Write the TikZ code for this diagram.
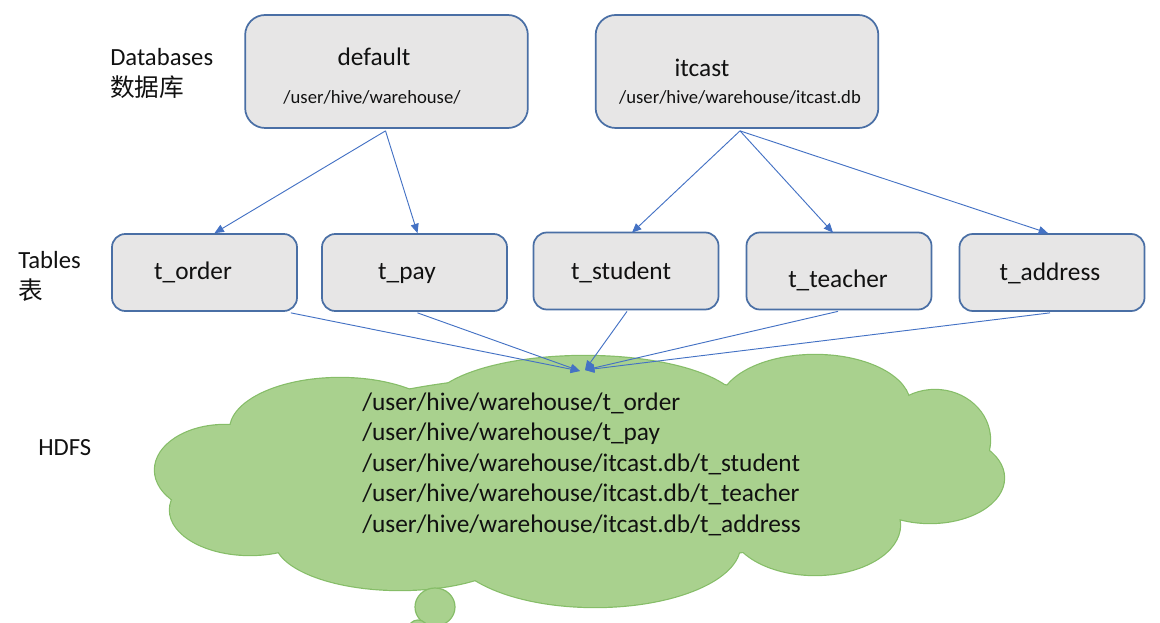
\documentclass[tikz,border=0pt]{standalone}
\usepackage{fontspec}
\setmainfont{Carlito}
\newfontfamily\cjk{Noto Sans CJK SC}
\usetikzlibrary{calc,arrows.meta}
\definecolor{boxfill}{HTML}{E7E6E6}
\definecolor{boxline}{HTML}{4A6FA5}
\definecolor{arrcol}{HTML}{4472C4}
\definecolor{cloudfill}{HTML}{A9D18E}
\definecolor{cloudline}{HTML}{86BD68}
\definecolor{txt}{HTML}{111111}
\begin{document}
\begin{tikzpicture}[x=0.75pt,y=-0.75pt,
  dbbox/.style={draw=boxline, line width=1.3pt, fill=boxfill, rounded corners=15pt,
    minimum width=212pt, minimum height=84.75pt, inner sep=0pt},
  tbbox/.style={draw=boxline, line width=1.3pt, fill=boxfill, rounded corners=10pt,
    minimum width=138.75pt, minimum height=57.75pt, inner sep=0pt},
  bigtxt/.style={text=txt, inner sep=0pt, font=\fontsize{19}{23}\selectfont},
  smalltxt/.style={text=txt, inner sep=0pt, font=\fontsize{14}{17}\selectfont},
  sidetxt/.style={text=txt, inner sep=0pt, anchor=west, font=\fontsize{18.5}{23}\selectfont},
  arr/.style={draw=arrcol, line width=0.7pt, -{Triangle[length=7pt,width=6pt]}},
  lobe/.style={draw=cloudline, line width=1.8pt, fill=cloudfill},
  lobefill/.style={fill=cloudfill}
]
\useasboundingbox (0,0) rectangle (1160,623);
\clip (0,0) rectangle (1160,623);

% side labels
\node[sidetxt] (lbdb) at (110,57) {Databases};
\node[sidetxt] (lbdbcn) at (110,87) {\cjk 数据库};
\node[sidetxt] (lbtb) at (18,260) {Tables};
\node[sidetxt] (lbtbcn) at (18,290) {\cjk 表};
\node[sidetxt] (lbhdfs) at (38,448) {HDFS};

% database boxes
\node[dbbox] (default) at (386.5,71.5) {};
\node[bigtxt] (defname) at (374,57) {default};
\node[smalltxt] (defpath) at (372,97) {/user/hive/warehouse/};
\node[dbbox] (itcast) at (737,71.5) {};
\node[bigtxt] (itname) at (702,68) {itcast};
\node[smalltxt] (itpath) at (740,97) {/user/hive/warehouse/itcast.db};

% table boxes
\node[tbbox] (tord) at (204.5,272.5) {};
\node[bigtxt] (tordt) at (193,272) {t\_order};
\node[tbbox] (tpay) at (414.5,272.5) {};
\node[bigtxt] (tpayt) at (407,274) {t\_pay};
\node[tbbox] (tstu) at (626,271) {};
\node[bigtxt] (tstut) at (621,272) {t\_student};
\node[tbbox] (ttea) at (839,271) {};
\node[bigtxt] (tteat) at (838,280) {t\_teacher};
\node[tbbox] (tadd) at (1052,272.5) {};
\node[bigtxt] (taddt) at (1050,273) {t\_address};

% cloud
\foreach \cx/\cy/\rx/\ry in {585/408/155/52, 815/405/95/50, 935/440/55/50, 930/478/74/45,
  815/525/85/50, 595/545/145/62, 400/540/125/50, 250/510/80/45, 225/470/70/45,
  340/430/110/52, 580/470/320/95}
  \path[lobe] (\cx,\cy) ellipse [x radius=\rx, y radius=\ry];
\foreach \cx/\cy/\rx/\ry in {585/408/155/52, 815/405/95/50, 935/440/55/50, 930/478/74/45,
  815/525/85/50, 595/545/145/62, 400/540/125/50, 250/510/80/45, 225/470/70/45,
  340/430/110/52, 580/470/320/95}
  \path[lobefill] (\cx,\cy) ellipse [x radius=\rx, y radius=\ry];
\path[draw=cloudline, line width=0.9pt, fill=cloudfill] (435,607) ellipse [x radius=20, y radius=19];
\path[draw=cloudline, line width=0.9pt, fill=cloudfill] (418,630) ellipse [x radius=10, y radius=10];

\node[bigtxt, anchor=west, align=left, font=\fontsize{19}{22.9}\selectfont] (hdfs) at (362,464)
  {/user/hive/warehouse/t\_order\\
   /user/hive/warehouse/t\_pay\\
   /user/hive/warehouse/itcast.db/t\_student\\
   /user/hive/warehouse/itcast.db/t\_teacher\\
   /user/hive/warehouse/itcast.db/t\_address};

\coordinate (hin1) at (580,371);
\coordinate (hin2) at (585,370);

% connectors
\draw[arr] ($(default.south)+(-1,2)$) -- ($(tord.north)+(10,0)$);
\draw[arr] ($(default.south)+(-1,2)$) -- ($(tpay.north)+(3,0)$);
\draw[arr] ($(itcast.south)+(3,2)$) -- ($(tstu.north)+(6,1)$);
\draw[arr] ($(itcast.south)+(3,2)$) -- ($(ttea.north)+(-6,1)$);
\draw[arr] ($(itcast.south)+(3,2)$) -- ($(tadd.north)+(-4,0)$);
\draw[arr] ($(tord.south east)+(-7,1)$) -- (hin1);
\draw[arr] ($(tpay.south)+(3,1)$) -- (hin1);
\draw[arr] ($(tstu.south)+(1,1)$) -- (hin2);
\draw[arr] ($(ttea.south)+(-1,1)$) -- (hin2);
\draw[arr] ($(tadd.south)+(-2,1)$) -- (hin2);
\end{tikzpicture}
\end{document}
